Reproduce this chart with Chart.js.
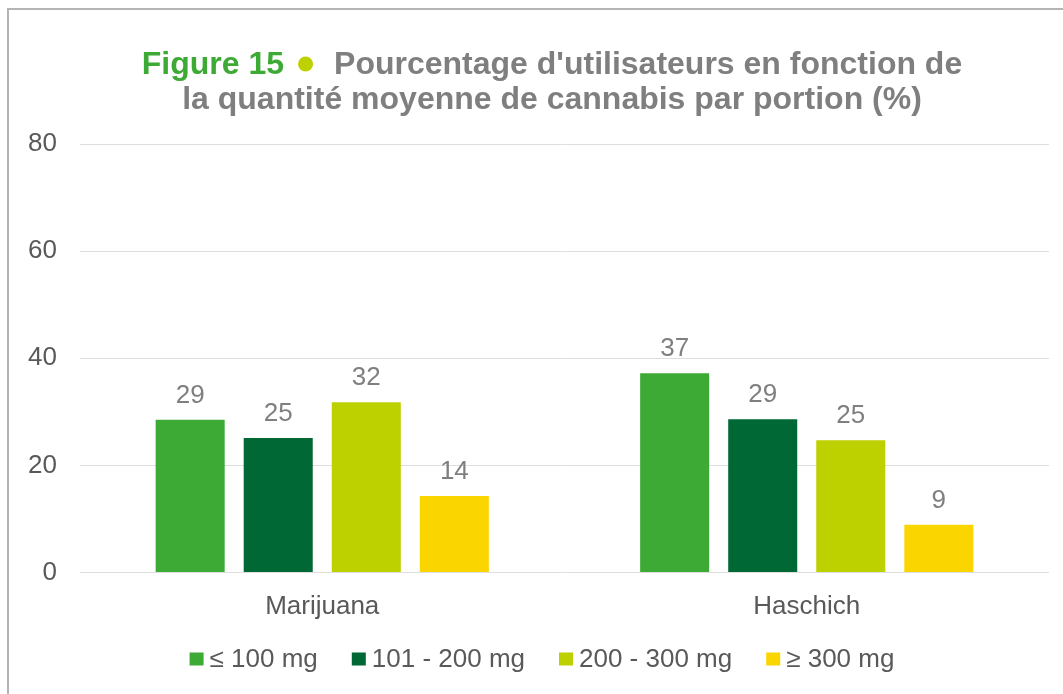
<!DOCTYPE html>
<html><head><meta charset="utf-8">
<script src="https://cdn.jsdelivr.net/npm/chart.js@4"></script>
<style>
html,body{margin:0;padding:0;background:#fff;overflow:hidden}
#frame{position:absolute;left:7px;top:8px;width:1100px;height:740px;border:2px solid #b4b4b4;box-sizing:border-box}
#wrap{position:absolute;left:0;top:0;width:1063px;height:694px}
</style></head><body>
<div id="frame"></div>
<div id="wrap"><canvas id="c" width="1063" height="694"></canvas></div>
<script>
const categories = ['Marijuana', 'Haschich'];
const seriesLabels = ['≤ 100 mg', '101 - 200 mg', '200 - 300 mg', '≥ 300 mg'];
const le100 = [28.5, 37.2];
const s101to200 = [25.1, 28.6];
const s200to300 = [31.8, 24.7];
const ge300 = [14.3, 8.9];
const yTicks = [0, 20, 40, 60, 80];
const seriesColors = ['#3daa35', '#006835', '#bdd000', '#fad500'];
const titleFigure = 'Figure 15';
const titleRest1 = "Pourcentage d'utilisateurs en fonction de";
const titleLine2 = 'la quantité moyenne de cannabis par portion (%)';

const FONT = '"Liberation Sans", Arial, sans-serif';
const seriesValues = [le100, s101to200, s200to300, ge300];

const datasets = seriesValues.map((vals, i) => ({
  label: seriesLabels[i],
  data: vals,
  backgroundColor: seriesColors[i],
  borderWidth: 0,
  categoryPercentage: 0.727,
  barPercentage: 0.784
}));

const titlePlugin = {
  id: 'titlePlugin',
  afterDraw(chart) {
    const ctx = chart.ctx;
    ctx.save();
    ctx.font = 'bold 32px ' + FONT;
    ctx.textBaseline = 'alphabetic';
    ctx.textAlign = 'left';
    const wA = ctx.measureText(titleFigure).width;
    const wB = ctx.measureText(titleRest1).width;
    const g1 = 14, dot = 15, g2 = 21;
    const total = wA + g1 + dot + g2 + wB;
    const cx = 552;
    let x = cx - total / 2;
    const y1 = 74;
    ctx.fillStyle = '#3daa35';
    ctx.fillText(titleFigure, x, y1);
    x += wA + g1;
    ctx.fillStyle = '#bdd000';
    ctx.beginPath();
    ctx.arc(x + dot / 2, y1 - 10, dot / 2, 0, Math.PI * 2);
    ctx.fill();
    x += dot + g2;
    ctx.fillStyle = '#7f7f7f';
    ctx.fillText(titleRest1, x, y1);
    ctx.textAlign = 'center';
    ctx.fillText(titleLine2, cx, 109);
    ctx.restore();
  }
};

const dataLabelPlugin = {
  id: 'dataLabelPlugin',
  afterDatasetsDraw(chart) {
    const ctx = chart.ctx;
    ctx.save();
    ctx.font = '26px ' + FONT;
    ctx.fillStyle = '#7f7f7f';
    ctx.textAlign = 'center';
    ctx.textBaseline = 'alphabetic';
    chart.data.datasets.forEach((ds, di) => {
      const meta = chart.getDatasetMeta(di);
      meta.data.forEach((el, i) => {
        ctx.fillText(String(Math.round(ds.data[i])), el.x, el.y - 17);
      });
    });
    ctx.restore();
  }
};

const legendPlugin = {
  id: 'legendPlugin',
  afterDraw(chart) {
    const ctx = chart.ctx;
    ctx.save();
    ctx.font = '26px ' + FONT;
    ctx.textBaseline = 'middle';
    ctx.textAlign = 'left';
    const box = 14, boxH = 13, gap = 6, itemGap = 34;
    const items = chart.data.datasets.map(ds => ({ t: ds.label, c: ds.backgroundColor, w: ctx.measureText(ds.label).width }));
    let total = 0;
    items.forEach((it, i) => { total += box + gap + it.w + (i ? itemGap : 0); });
    let x = 542 - total / 2;
    const cy = 659;
    items.forEach(it => {
      ctx.fillStyle = it.c;
      ctx.fillRect(x, cy - boxH / 2, box, boxH);
      ctx.fillStyle = '#595959';
      ctx.fillText(it.t, x + box + gap, cy + 1);
      x += box + gap + it.w + itemGap;
    });
    ctx.restore();
  }
};

new Chart(document.getElementById('c'), {
  type: 'bar',
  data: { labels: categories, datasets },
  options: {
    responsive: false,
    animation: false,
    devicePixelRatio: 1,
    layout: { padding: { left: 0, top: 144, right: 14, bottom: 61.5 } },
    plugins: { legend: { display: false }, title: { display: false }, tooltip: { enabled: false } },
    scales: {
      x: {
        grid: { display: false },
        border: { display: false },
        ticks: { color: '#595959', font: { family: FONT, size: 26 }, padding: 11 },
        afterFit(scale) { scale.height = 60; }
      },
      y: {
        min: 0, max: 80,
        afterBuildTicks(scale) { scale.ticks = yTicks.map(v => ({ value: v })); },
        grid: { color: '#dedede', lineWidth: 1, drawTicks: false },
        border: { display: false },
        ticks: { color: '#595959', font: { family: FONT, size: 26 }, padding: 23 },
        afterFit(scale) { scale.width = 80; }
      }
    }
  },
  plugins: [titlePlugin, dataLabelPlugin, legendPlugin]
});
</script>
</body></html>
